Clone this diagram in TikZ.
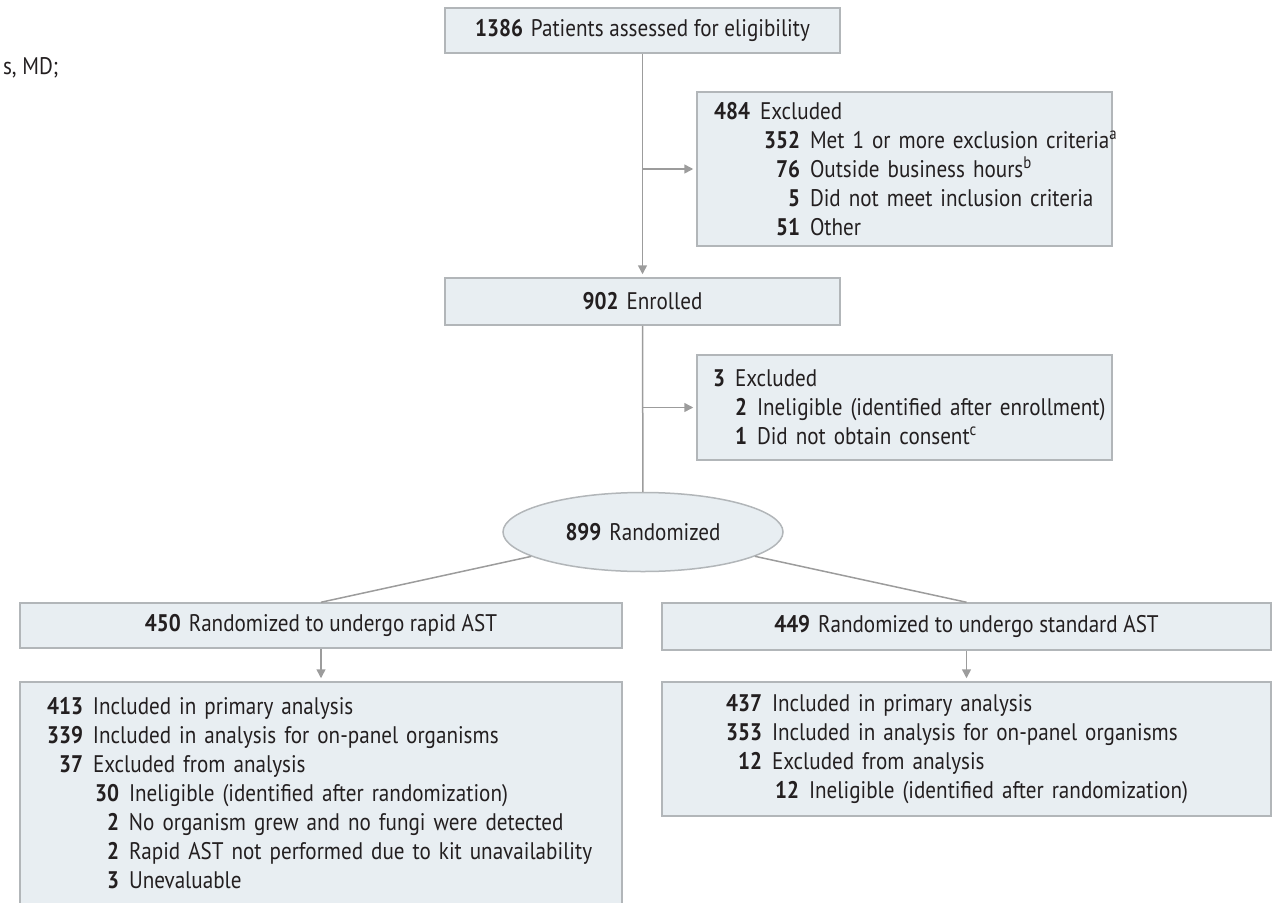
\documentclass[tikz,border=0pt]{standalone}
\usepackage{fontspec}
\setmainfont{PT Sans}[FakeStretch=0.88]
\usetikzlibrary{shapes.geometric,arrows.meta}
\definecolor{boxfill}{HTML}{E8EEF2}
\definecolor{boxline}{HTML}{B2B6B9}
\definecolor{linkgray}{HTML}{9C9C9C}
\definecolor{ink}{HTML}{231F20}
\newcommand{\cnt}[2]{\makebox[#1][r]{\textbf{#2}}\hspace{10pt}}
\newcommand{\row}[3]{\makebox[\linewidth][l]{\cnt{#1}{#2}#3}}
\begin{document}
\begin{tikzpicture}[x=1pt, y=-1pt, line width=1.5pt, font=\fontsize{24}{29}\selectfont, text=ink,
    box/.style = {draw=boxline, fill=boxfill, rectangle, inner sep=0pt},
    listbox/.style = {box, align=left, inner xsep=16pt, inner ysep=0pt},
    link/.style = {draw=linkgray},
    arr/.style = {link, -{Triangle[width=9pt,length=9pt]}, shorten >=3pt}]
    \useasboundingbox (0,0) rectangle (1279,902);
    \node[anchor=base west] (author) at (-1,74) {s, MD;};
    % enrollment
    \node[box, minimum width=395, minimum height=45] (assessed) at (642.5,30.5) {\textbf{1386}\hspace{8pt}Patients assessed for eligibility};
    \node[listbox, text width=383, minimum height=154] (excl1) at (904.5,169) {\row{37pt}{484}{Excluded}\\
        \row{87pt}{352}{Met 1 or more exclusion criteria\textsuperscript{a}}\\
        \row{87pt}{76}{Outside business hours\textsuperscript{b}}\\
        \row{87pt}{5}{Did not meet inclusion criteria}\\
        \row{87pt}{51}{Other}};
    \node[box, minimum width=395, minimum height=47] (enrolled) at (642.5,301.5) {\textbf{902}\hspace{8pt}Enrolled};
    \node[listbox, text width=383, minimum height=105] (excl2) at (904.5,407.5) {\row{12pt}{3}{Excluded}\\
        \row{34pt}{2}{Ineligible (identified after enrollment)}\\
        \row{34pt}{1}{Did not obtain consent\textsuperscript{c}}};
    \node[box, ellipse, minimum width=280, minimum height=79] (rand) at (643,532) {\textbf{899}\hspace{8pt}Randomized};
    % allocation
    \node[box, minimum width=602, minimum height=45] (rapid) at (321,625.5) {\textbf{450}\hspace{8pt}Randomized to undergo rapid AST};
    \node[box, minimum width=609, minimum height=47] (standard) at (966.5,626.5) {\textbf{449}\hspace{8pt}Randomized to undergo standard AST};
    % analysis
    \node[listbox, inner xsep=25pt, text width=552, minimum height=222] (rapidres) at (321,793) {\row{38pt}{413}{Included in primary analysis}\\
        \row{38pt}{339}{Included in analysis for on-panel organisms}\\
        \row{38pt}{37}{Excluded from analysis}\\
        \row{74pt}{30}{Ineligible (identified after randomization)}\\
        \row{74pt}{2}{No organism grew and no fungi were detected}\\
        \row{74pt}{2}{Rapid AST not performed due to kit unavailability}\\
        \row{74pt}{3}{Unevaluable}};
    \node[listbox, inner xsep=63pt, text width=483, minimum height=134] (standardres) at (966.5,749) {\row{37pt}{437}{Included in primary analysis}\\
        \row{37pt}{353}{Included in analysis for on-panel organisms}\\
        \row{37pt}{12}{Excluded from analysis}\\
        \row{74pt}{12}{Ineligible (identified after randomization)}};
    % connectors
    \draw[arr] (assessed) -- (enrolled);
    \draw[arr] (excl1.west -| assessed.south) -- (excl1.west);
    \draw[link] (enrolled) -- (rand);
    \draw[arr] (excl2.west -| enrolled.south) -- (excl2.west);
    \draw[link] (rand) -- (rapid.north);
    \draw[link] (rand) -- (standard.north);
    \draw[arr] (rapid) -- (rapidres);
    \draw[arr] (standard) -- (standardres);
\end{tikzpicture}
\end{document}
